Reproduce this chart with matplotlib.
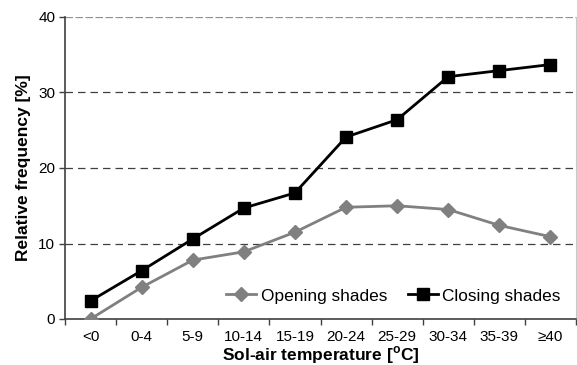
import matplotlib
matplotlib.use("Agg")
import matplotlib.pyplot as plt
import numpy as np

categories = ["<0", "0-4", "5-9", "10-14", "15-19", "20-24", "25-29", "30-34", "35-39", "≥40"]
opening = [0.0, 4.2, 7.8, 8.9, 11.5, 14.8, 15.0, 14.5, 12.4, 10.9]
closing = [2.4, 6.4, 10.6, 14.7, 16.7, 24.1, 26.4, 32.1, 32.9, 33.7]
yticks = [0, 10, 20, 30, 40]

plt.rcParams['font.family'] = ['Liberation Sans', 'DejaVu Sans']
plt.rcParams['mathtext.fontset'] = 'custom'
plt.rcParams['mathtext.bf'] = 'Liberation Sans:bold'
plt.rcParams['mathtext.rm'] = 'Liberation Sans'

fig = plt.figure(figsize=(5.77, 3.65), dpi=100)
ax = fig.add_axes([65/577, 1 - 319/365, (576-65)/577, (319-17)/365])

x = np.arange(len(categories))
ax.plot(x, opening, color='#808080', lw=2, marker='D', ms=7, mec='#808080', label='Opening shades', zorder=3)
ax.plot(x, closing, color='black', lw=2, marker='s', ms=8, label='Closing shades', zorder=4)

ax.set_xlim(-0.5, len(categories) - 0.5)
ax.set_ylim(0, 40)
ax.set_yticks(yticks)
ax.set_xticks(x)
ax.set_xticklabels(categories, fontsize=11)
ax.set_xticks(np.arange(len(categories) + 1) - 0.5, minor=True)
ax.tick_params(axis='x', which='major', length=0, pad=8)
ax.tick_params(axis='x', which='minor', length=4, width=1, color='#404040', direction='out')
ax.tick_params(axis='y', length=4, width=1, color='#404040', labelsize=11, pad=3)

for yv in yticks[1:-1]:
    ax.axhline(yv, color='#404040', lw=0.9, ls=(0, (6, 4)), zorder=1)
ax.axhline(40, color='#909090', lw=0.9, ls=(0, (6, 2)), zorder=1)

ax.spines['top'].set_visible(False)
ax.spines['right'].set_color('#c8c8c8')
ax.spines['right'].set_linewidth(0.8)
ax.spines['left'].set_color('#404040')
ax.spines['bottom'].set_color('#404040')
ax.spines['left'].set_linewidth(1.2)
ax.spines['bottom'].set_linewidth(1.2)

ax.set_ylabel('Relative frequency [%]', fontsize=12.5, fontweight='bold', labelpad=5)
ax.set_xlabel('Sol-air temperature [$^{\\mathbf{o}}$C]', fontsize=12.5, fontweight='bold', labelpad=0)

ax.legend(loc='lower right', ncol=2, frameon=False, fontsize=12.4, handlelength=1.75,
          handletextpad=0.25, columnspacing=1.2, bbox_to_anchor=(1.0, 0.0))

fig.savefig('out.png', dpi=100)
